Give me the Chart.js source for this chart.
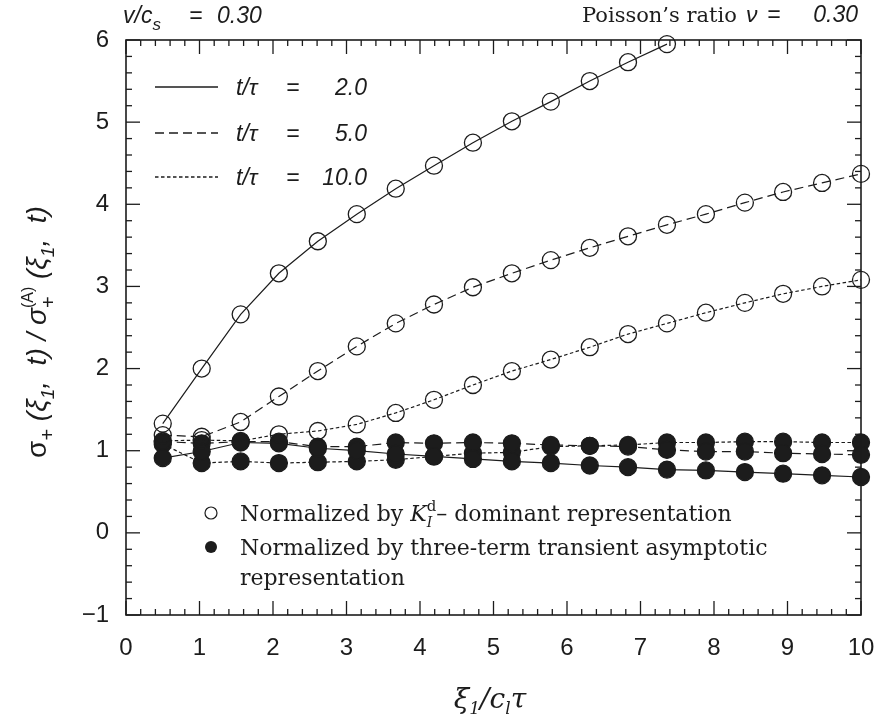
<!DOCTYPE html>
<html>
<head>
<meta charset="utf-8">
<script src="https://cdn.jsdelivr.net/npm/chart.js@4.4.1/dist/chart.umd.min.js"></script>
<style>
  body { margin: 0; background: #fff; }
  canvas { display: block; }
</style>
</head>
<body>
<canvas id="stress-chart" width="878" height="728"></canvas>
<script>
// distance from the crack tip, xi_1 / (c_l tau)
const xi = [0.5, 1.03, 1.56, 2.08, 2.61, 3.14, 3.67, 4.19, 4.72, 5.25, 5.78, 6.31, 6.83, 7.36, 7.89, 8.42, 8.94, 9.47, 10.0];

// normalized by the K_I^d dominant term (open circles)
const openT2 = [1.33, 2.0, 2.66, 3.16, 3.55, 3.88, 4.19, 4.47, 4.75, 5.01, 5.25, 5.5, 5.73, 5.95];
const openT5 = [1.19, 1.17, 1.35, 1.66, 1.97, 2.27, 2.55, 2.78, 2.99, 3.16, 3.32, 3.47, 3.61, 3.75, 3.88, 4.02, 4.15, 4.26, 4.37];
const openT10 = [1.12, 1.13, 1.12, 1.2, 1.24, 1.32, 1.46, 1.62, 1.8, 1.97, 2.11, 2.26, 2.42, 2.55, 2.68, 2.8, 2.91, 3.0, 3.08];

// normalized by the three-term transient asymptotic field (filled circles)
const fullT2 = [0.91, 0.99, 1.1, 1.09, 1.03, 1.0, 0.96, 0.93, 0.9, 0.87, 0.85, 0.82, 0.8, 0.77, 0.76, 0.74, 0.72, 0.7, 0.68];
const fullT5 = [1.11, 1.09, 1.11, 1.11, 1.05, 1.05, 1.1, 1.09, 1.1, 1.09, 1.07, 1.06, 1.05, 1.01, 0.99, 0.99, 0.97, 0.96, 0.95];
const fullT10 = [1.08, 0.85, 0.87, 0.85, 0.86, 0.87, 0.89, 0.93, 0.97, 0.98, 1.05, 1.06, 1.07, 1.1, 1.1, 1.11, 1.11, 1.1, 1.1];

const timeLabels = ['2.0', '5.0', '10.0'];
const xTicks = [0, 1, 2, 3, 4, 5, 6, 7, 8, 9, 10];
const yTicks = [-1, 0, 1, 2, 3, 4, 5, 6];

const INK = '#1c1c1c';
const dashes = [[], [9, 5], [3.5, 2.5]];
const SANS = '"Liberation Sans", Arial, sans-serif';
const SERIF = '"DejaVu Serif", serif';

const toPoints = (vals) => vals.map((v, i) => ({ x: xi[i], y: v }));

const makeSet = (vals, style, filled) => ({
    data: toPoints(vals),
    borderColor: INK,
    borderWidth: 1.2,
    borderDash: dashes[style],
    pointStyle: 'circle',
    pointRadius: 8.5,
    pointBorderWidth: 1.3,
    pointBorderColor: INK,
    pointBackgroundColor: filled ? INK : 'rgba(0,0,0,0)',
    fill: false,
    tension: 0,
    clip: false
});

// draws a run of text pieces: [text, font, dy, keepX]
const drawRich = (ctx, x, y, parts, align) => {
    let w = 0;
    parts.forEach(p => {
        ctx.font = p[1];
        if (!p[3]) w += ctx.measureText(p[0]).width;
    });
    let cx = align === 'center' ? x - w / 2 : align === 'right' ? x - w : x;
    parts.forEach(p => {
        ctx.font = p[1];
        ctx.fillText(p[0], cx, y + (p[2] || 0));
        if (!p[3]) cx += ctx.measureText(p[0]).width;
    });
};

const frameAndTicks = {
    id: 'frameAndTicks',
    afterDatasetsDraw(chart) {
        const { ctx, chartArea: a, scales: { x, y } } = chart;
        ctx.save();
        ctx.strokeStyle = INK;
        ctx.lineWidth = 1.6;
        ctx.strokeRect(a.left, a.top, a.right - a.left, a.bottom - a.top);
        ctx.lineWidth = 1.3;
        const seg = (x1, y1, x2, y2) => {
            ctx.beginPath();
            ctx.moveTo(x1, y1);
            ctx.lineTo(x2, y2);
            ctx.stroke();
        };
        // inward ticks on all four sides, minor every 0.2
        for (let i = 0; i <= 50; i++) {
            const px = x.getPixelForValue(i / 5);
            const len = i % 5 === 0 ? 14 : 6;
            seg(px, a.bottom, px, a.bottom - len);
            seg(px, a.top, px, a.top + len);
        }
        for (let i = 0; i <= 35; i++) {
            const py = y.getPixelForValue(-1 + i / 5);
            const len = i % 5 === 0 ? 14 : 6;
            seg(a.left, py, a.left + len, py);
            seg(a.right, py, a.right - len, py);
        }
        ctx.restore();
    }
};

const annotations = {
    id: 'annotations',
    afterDraw(chart) {
        const { ctx } = chart;
        ctx.save();
        ctx.fillStyle = INK;
        ctx.strokeStyle = INK;
        ctx.textBaseline = 'alphabetic';
        ctx.textAlign = 'left';
        const it = (s) => `italic ${s}px ${SANS}`;
        const up = (s) => `${s}px ${SANS}`;

        // header texts
        drawRich(ctx, 123, 23, [['v/c', it(23)], ['s', it(17), 7]], 'left');
        drawRich(ctx, 189, 23, [['=', it(23)]], 'left');
        drawRich(ctx, 217, 23, [['0.30', it(23)]], 'left');
        drawRich(ctx, 582, 22, [['Poisson\u2019s ratio', `21px ${SERIF}`]], 'left');
        drawRich(ctx, 746, 22, [['\u03BD', it(23)]], 'left');
        drawRich(ctx, 767, 22, [['=', it(23)]], 'left');
        drawRich(ctx, 858, 22, [['0.30', it(23)]], 'right');

        // line style key for t/tau
        const keyY = [87, 133, 177];
        keyY.forEach((ky, i) => {
            ctx.lineWidth = 1.3;
            ctx.setLineDash(dashes[i]);
            ctx.beginPath();
            ctx.moveTo(155, ky);
            ctx.lineTo(218, ky);
            ctx.stroke();
            ctx.setLineDash([]);
            drawRich(ctx, 236, ky + 8, [['t/\u03C4', it(23)]], 'left');
            drawRich(ctx, 286, ky + 8, [['=', it(23)]], 'left');
            drawRich(ctx, 367, ky + 8, [[timeLabels[i], it(23)]], 'right');
        });

        // marker key
        ctx.lineWidth = 1.2;
        ctx.beginPath();
        ctx.arc(211, 513, 6, 0, Math.PI * 2);
        ctx.stroke();
        ctx.beginPath();
        ctx.arc(211, 547, 6, 0, Math.PI * 2);
        ctx.fill();
        const serif = `22px ${SERIF}`;
        const serifIt = `italic 22px ${SERIF}`;
        drawRich(ctx, 240, 521, [
            ['Normalized by ', serif],
            ['K', serifIt],
            ['I', `italic 14px ${SERIF}`, 6, true],
            ['d', `15px ${SERIF}`, -10],
            ['\u2013 dominant representation', serif]
        ], 'left');
        drawRich(ctx, 240, 555, [['Normalized by three-term transient asymptotic', serif]], 'left');
        drawRich(ctx, 240, 585, [['representation', serif]], 'left');

        // x axis title
        drawRich(ctx, 490, 708, [
            ['\u03BE', `italic 28px ${SERIF}`],
            ['1', `italic 17px ${SERIF}`, 6],
            ['/', `italic 28px ${SERIF}`],
            ['c', `italic 28px ${SERIF}`],
            ['l', `italic 17px ${SERIF}`, 6],
            ['\u03C4', `italic 28px ${SERIF}`]
        ], 'center');

        // y axis title, rotated
        ctx.translate(37, 332);
        ctx.rotate(-Math.PI / 2);
        drawRich(ctx, 0, 9, [
            ['\u03C3', up(28)],
            ['+', up(20), 8],
            [' (\u03BE', it(28)],
            ['1', it(19), 8],
            [',  t) / \u03C3', it(28)],
            ['+', up(20), 9, true],
            ['(A)', up(16), -13],
            [' (\u03BE', it(28)],
            ['1', it(19), 8],
            [',  t)', it(28)]
        ], 'center');
        ctx.restore();
    }
};

const ctx = document.getElementById('stress-chart').getContext('2d');
const stressChart = new Chart(ctx, {
    type: 'line',
    data: {
        datasets: [
            makeSet(openT2, 0, false),
            makeSet(openT5, 1, false),
            makeSet(openT10, 2, false),
            makeSet(fullT2, 0, true),
            makeSet(fullT5, 1, true),
            makeSet(fullT10, 2, true)
        ]
    },
    options: {
        responsive: false,
        animation: false,
        devicePixelRatio: 1,
        layout: {
            padding: { left: 0, top: 40, right: 17, bottom: 0 }
        },
        plugins: {
            legend: { display: false },
            tooltip: { enabled: false }
        },
        scales: {
            x: {
                type: 'linear',
                min: 0,
                max: 10,
                afterBuildTicks: (s) => { s.ticks = xTicks.map(v => ({ value: v })); },
                afterFit: (s) => {
                    s.height = 113;
                    s.paddingLeft = 0;
                    s.paddingRight = 0;
                },
                grid: { display: false, drawTicks: false },
                border: { display: false },
                ticks: {
                    padding: 19,
                    maxRotation: 0,
                    color: INK,
                    font: { family: SANS, size: 24 }
                }
            },
            y: {
                type: 'linear',
                min: -1,
                max: 6,
                afterBuildTicks: (s) => { s.ticks = yTicks.map(v => ({ value: v })); },
                afterFit: (s) => { s.width = 126; },
                grid: { display: false, drawTicks: false },
                border: { display: false },
                ticks: {
                    padding: 17,
                    color: INK,
                    font: { family: SANS, size: 24 },
                    callback: (v) => v < 0 ? '\u2212' + Math.abs(v) : String(v)
                }
            }
        }
    },
    plugins: [frameAndTicks, annotations]
});
</script>
</body>
</html>
